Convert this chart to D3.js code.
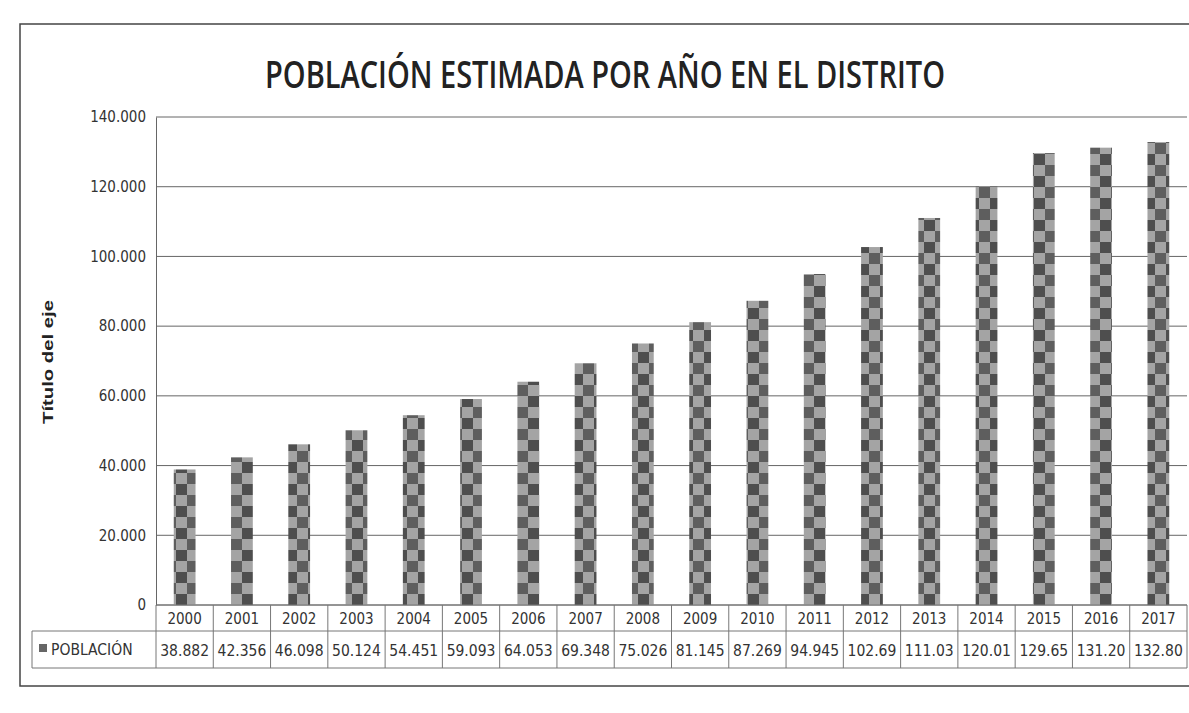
<!DOCTYPE html>
<html><head><meta charset="utf-8">
<script src="https://cdn.jsdelivr.net/npm/d3@7/dist/d3.min.js"></script>
<style>body{margin:0;background:#fff}svg{display:block}</style>
</head><body>
<svg id="c" width="1189" height="713"></svg>
<script>
const years = ["2000","2001","2002","2003","2004","2005","2006","2007","2008","2009","2010","2011","2012","2013","2014","2015","2016","2017"];
const poblacion = [38882,42356,46098,50124,54451,59093,64053,69348,75026,81145,87269,94945,102690,111030,120010,129650,131200,132800];
const yTicks = [0,20000,40000,60000,80000,100000,120000,140000];
const seriesName = "POBLACIÓN";
const title = "POBLACIÓN ESTIMADA POR AÑO EN EL DISTRITO";
const axisTitle = "Título del eje";

(function(){
const svg = d3.select("#c");
const font = "'DejaVu Sans Condensed','Liberation Sans',sans-serif";
const fmt = v => v.toLocaleString("de-DE");

const defs = svg.append("defs");
const pat = defs.append("pattern").attr("id","chk").attr("patternUnits","userSpaceOnUse")
  .attr("width",22).attr("height",22);
pat.append("rect").attr("width",22).attr("height",22).attr("fill","#a4a4a4");
pat.append("rect").attr("width",11).attr("height",11).attr("fill","#4e4e4e");
pat.append("rect").attr("x",11).attr("y",11).attr("width",11).attr("height",11).attr("fill","#5e5e5e");

svg.append("rect").attr("x",20).attr("y",24).attr("width",1180).attr("height",662)
  .attr("fill","none").attr("stroke","#444").attr("stroke-width",1.5);

const pL = 156, pR = 1187, pT = 117, pB = 605;
const x = d3.scaleBand().domain(years).range([pL, pR]).paddingInner(0.62).paddingOuter(0.31);
const xb = d3.scaleBand().domain(years).range([pL, pR]);
const y = d3.scaleLinear().domain([0,140000]).range([pB, pT]);

svg.append("text").attr("x",265).attr("y",88)
  .attr("textLength",680).attr("lengthAdjust","spacingAndGlyphs")
  .attr("font-family","'Open Sans','DejaVu Sans',sans-serif").attr("font-weight",600)
  .attr("font-size",38).attr("fill","#222").text(title);

svg.append("g").selectAll("line").data(yTicks).join("line")
  .attr("x1",pL).attr("x2",pR).attr("y1",d=>y(d)).attr("y2",d=>y(d))
  .attr("stroke","#666").attr("stroke-width",1);

const ya = svg.append("g").attr("transform",`translate(${pL},0)`)
  .call(d3.axisLeft(y).tickValues(yTicks).tickSize(0).tickPadding(10).tickFormat(d=>d===0?"0":(d/1000)+".000"));
ya.select(".domain").attr("stroke","#666");
ya.selectAll("text").attr("font-family",font).attr("font-size",15).attr("fill","#333");

svg.append("text").attr("transform",`translate(53,${362}) rotate(-90)`)
  .attr("text-anchor","middle").attr("font-family","'Liberation Sans',sans-serif")
  .attr("font-weight","bold").attr("font-size",15).attr("textLength",124)
  .attr("lengthAdjust","spacingAndGlyphs").attr("fill","#222").text(axisTitle);

svg.append("g").selectAll("rect").data(poblacion).join("rect")
  .attr("x",(d,i)=>x(years[i])).attr("width",x.bandwidth())
  .attr("y",d=>y(d)).attr("height",d=>y(0)-y(d))
  .attr("fill","url(#chk)");

const r1 = pB, r2 = 631, r3 = 668, legL = 32;
const tg = svg.append("g").attr("stroke","#777").attr("stroke-width",1);
tg.append("line").attr("x1",pL).attr("x2",pR).attr("y1",r1).attr("y2",r1);
tg.append("line").attr("x1",legL).attr("x2",pR).attr("y1",r2).attr("y2",r2);
tg.append("line").attr("x1",legL).attr("x2",pR).attr("y1",r3).attr("y2",r3);
tg.append("line").attr("x1",legL).attr("x2",legL).attr("y1",r2).attr("y2",r3);
tg.selectAll(".v").data(years).join("line").attr("class","v")
  .attr("x1",d=>xb(d)).attr("x2",d=>xb(d)).attr("y1",r1).attr("y2",r3);
tg.append("line").attr("x1",pR).attr("x2",pR).attr("y1",r1).attr("y2",r3);

svg.append("g").selectAll("text").data(years).join("text")
  .attr("x",d=>xb(d)+xb.bandwidth()/2).attr("y",r1+19).attr("text-anchor","middle")
  .attr("font-family",font).attr("font-size",15).attr("fill","#333").text(d=>d);

svg.append("g").selectAll("text").data(poblacion).join("text")
  .attr("x",(d,i)=>xb(years[i])+xb.bandwidth()/2).attr("y",r2+25).attr("text-anchor","middle")
  .attr("font-family",font).attr("font-size",15.5).attr("fill","#333").text(d=>fmt(d).slice(0,6));

svg.append("rect").attr("x",legL+7).attr("y",r2+13).attr("width",8).attr("height",8).attr("fill","#666");
svg.append("text").attr("x",legL+19).attr("y",r2+24).attr("font-family",font).attr("font-size",15.5)
  .attr("fill","#333").text(seriesName);
})();
</script>
</body></html>
